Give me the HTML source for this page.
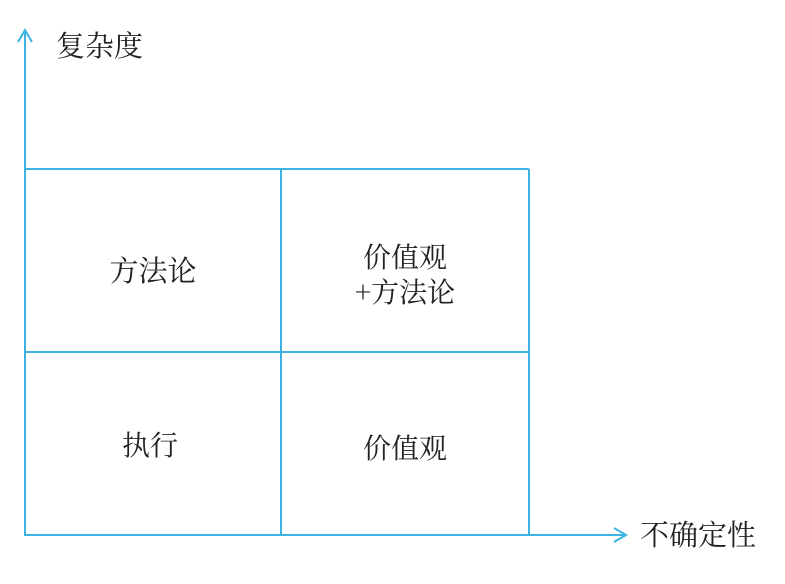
<!DOCTYPE html>
<html><head><meta charset="utf-8"><style>
body{margin:0;background:#fff;}
svg text{font-family:"Noto Serif CJK SC","Liberation Serif",serif;fill:#222;}
</style></head><body>
<svg width="785" height="579" xmlns="http://www.w3.org/2000/svg">
<g stroke="#3ab4e0" stroke-width="2" fill="none">
<line x1="25" y1="30" x2="25" y2="536"/>
<polyline points="18,42 25,30 32,42"/>
<line x1="24" y1="535" x2="626" y2="535"/>
<polyline points="614,528 626,535 614,542"/>
<line x1="25" y1="169" x2="529" y2="169"/>
<line x1="25" y1="352" x2="529" y2="352"/>
<line x1="281" y1="169" x2="281" y2="535"/>
<line x1="529" y1="169" x2="529" y2="535"/>
</g>
<text x="56" y="56" font-size="29">复杂度</text>
<text x="640" y="545" font-size="29">不确定性</text>
<text x="153" y="281" font-size="29" text-anchor="middle">方法论</text>
<text x="405" y="267" font-size="28" text-anchor="middle">价值观</text>
<text x="405" y="302" font-size="28" text-anchor="middle">+方法论</text>
<text x="150" y="455" font-size="28" text-anchor="middle">执行</text>
<text x="405" y="458" font-size="28" text-anchor="middle">价值观</text>
</svg>
</body></html>
